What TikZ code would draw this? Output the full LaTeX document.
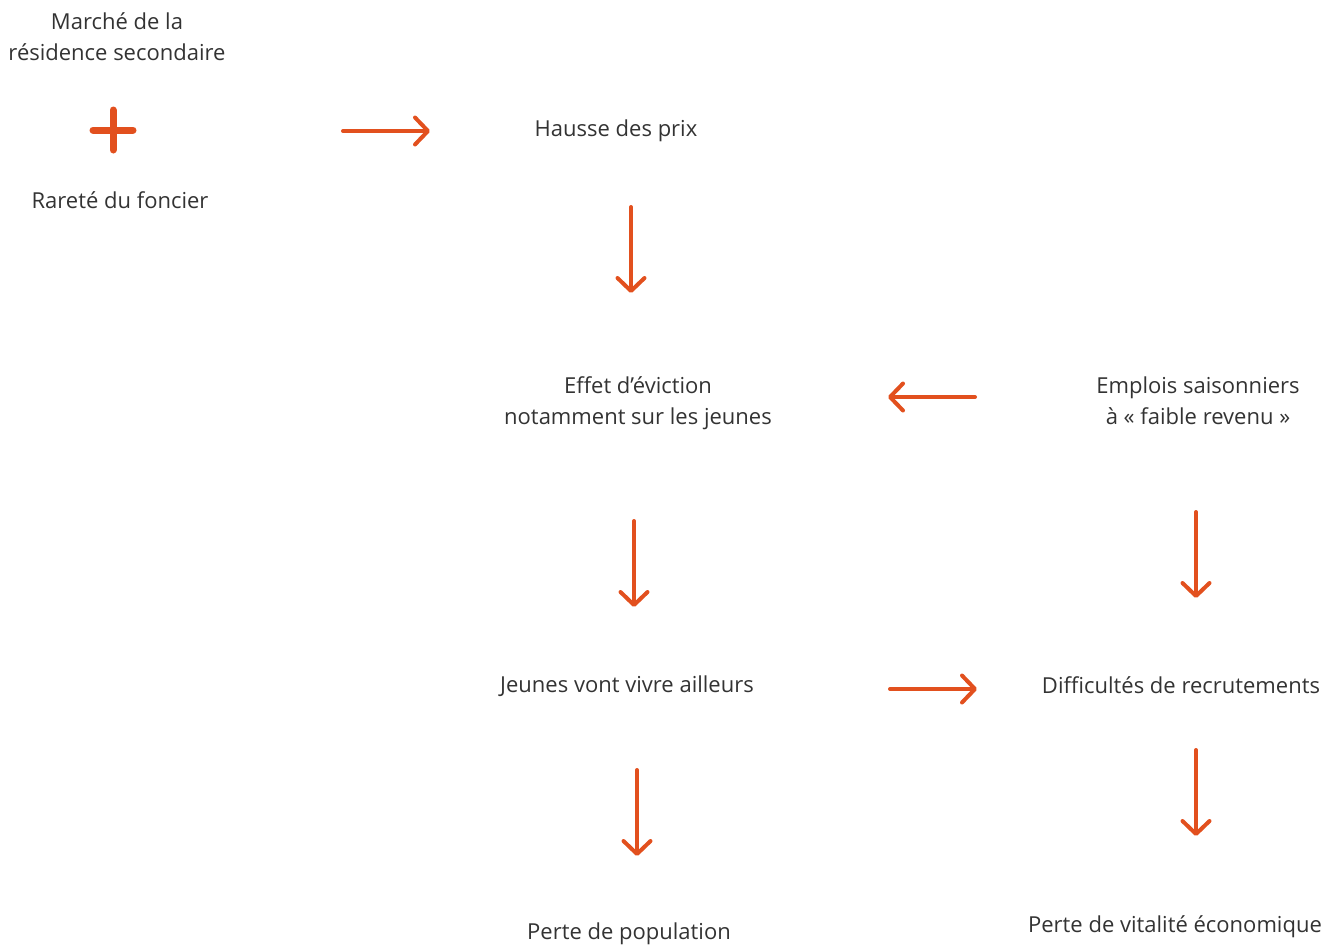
\documentclass[tikz,border=0pt]{standalone}
\usepackage{fontspec}
\setmainfont{Open Sans}
\usepackage{tikz}
\usetikzlibrary{arrows.meta}
\definecolor{rouille}{HTML}{E2501E}
\definecolor{texte}{HTML}{333333}
\tikzstyle{label} = [text=texte, align=center, inner sep=0pt, font=\fontsize{22}{31}\selectfont]
\tikzstyle{flow} = [draw=rouille, line width=4pt, line cap=round,
    -{Straight Barb[length=13pt,width=27pt,line width=4pt,round]}]
\tikzstyle{plus} = [draw=rouille, line width=7pt, line cap=round]

\begin{document}
\begin{tikzpicture}[x=1pt,y=-1pt]
    \useasboundingbox (0,0) rectangle (1325,946);
    % First the texts
    \foreach \pos/\name/\txt in {{(117,37)/Marche/Marché de la\\résidence secondaire},
        {(120,200)/Rarete/Rareté du foncier}, {(616,131)/Hausse/Hausse des prix},
        {(638,403)/Eviction/Effet d’éviction\\notamment sur les jeunes},
        {(1198,401)/Emplois/Emplois saisonniers\\à « faible revenu »},
        {(627,686)/Jeunes/Jeunes vont vivre ailleurs},
        {(1181,685)/Recrut/Difficultés de recrutements},
        {(629,934)/Population/Perte de population},
        {(1175,927)/Vitalite/Perte de vitalité économique}}
        \node[label] (\name) at \pos {\txt};

    % the plus sign
    \coordinate (Plus) at (113,130);
    \path[plus] ([xshift=-20pt]Plus) -- ([xshift=20pt]Plus);
    \path[plus] ([yshift=-20pt]Plus) -- ([yshift=20pt]Plus);

    % Arrow ends
    \foreach \pos/\name in {{(343,131)/A1}, {(430,131)/B1}, {(631,207)/A2}, {(631,293)/B2},
        {(975,397)/A3}, {(888,397)/B3}, {(634,521)/A4}, {(634,607)/B4},
        {(1196,512)/A5}, {(1196,598)/B5}, {(890,689)/A6}, {(977,689)/B6},
        {(637,770)/A7}, {(637,856)/B7}, {(1196,750)/A8}, {(1196,836)/B8}}
        \path \pos coordinate (\name);

    % Connect with arrows
    \foreach \source/\dest in {A1/B1, A2/B2, A3/B3, A4/B4, A5/B5, A6/B6, A7/B7, A8/B8}
        \path[flow] (\source) -- (\dest);

\end{tikzpicture}
\end{document}
